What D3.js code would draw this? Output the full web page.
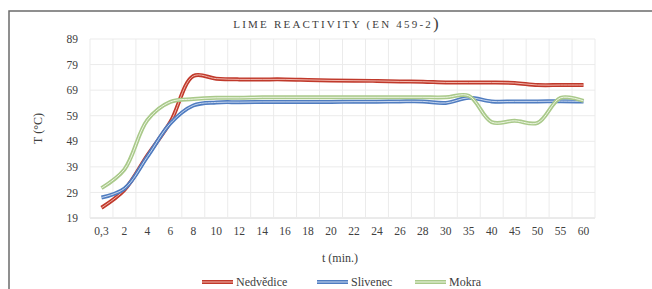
<!DOCTYPE html>
<html>
<head>
<meta charset="utf-8">
<script src="https://cdn.jsdelivr.net/npm/d3@7"></script>
<style>
  body { margin: 0; background: #fff; }
  text { font-family: "Liberation Serif", "DejaVu Serif", serif; fill: #404040; }
</style>
</head>
<body>
<div id="chart"></div>
<script>
const categories = ['0,3', '2', '4', '6', '8', '10', '12', '14', '16', '18', '20', '22', '24', '26', '28', '30', '35', '40', '45', '50', '55', '60']
const nedvedice = [23, 30, 43.5, 56.5, 74.5, 73.5, 73.2, 73.2, 73.2, 73, 72.8, 72.7, 72.6, 72.4, 72.3, 72, 72, 72, 71.8, 71, 71, 71]
const slivenec = [27, 30.5, 43, 56, 63, 64.2, 64.3, 64.4, 64.4, 64.4, 64.4, 64.5, 64.5, 64.6, 64.6, 64, 66, 64.6, 64.6, 64.6, 64.7, 64.6]
const mokra = [30.7, 38, 57.3, 64.4, 65.5, 66, 66, 66.2, 66.2, 66.2, 66.2, 66.2, 66.2, 66.2, 66.2, 66.2, 66.8, 56.5, 57, 56.2, 66, 64.8]
const yTicks = [19, 29, 39, 49, 59, 69, 79, 89]

const series = [
  { name: 'Nedvědice', values: nedvedice, color: '#c0392b', inner: '#f2b8ae' },
  { name: 'Slivenec', values: slivenec, color: '#4f7cc0', inner: '#c9d8f0' },
  { name: 'Mokra', values: mokra, color: '#a9c98a', inner: '#eef6e4' },
]

const params = { width: 652, height: 289, left: 90, right: 595, top: 39, bottom: 218 }

const svg = d3.select('#chart').append('svg')
  .attr('width', params.width)
  .attr('height', params.height)

// frame
svg.append('path')
  .attr('d', `M9,${params.height} L9,11 L${params.width},11`)
  .attr('fill', 'none')
  .attr('stroke', '#6b6b6b')
  .attr('stroke-width', 1.5)

const x = d3.scaleBand().domain(categories).range([params.left, params.right])
const y = d3.scaleLinear().domain([19, 89]).range([params.bottom, params.top])

// gridlines
const grid = svg.append('g')
grid.selectAll('line.h')
  .data(yTicks)
  .enter()
  .append('line')
  .attr('x1', params.left).attr('x2', params.right)
  .attr('y1', d => y(d)).attr('y2', d => y(d))
  .attr('stroke', d => d === 19 ? '#d6d6d6' : '#ebebeb')
  .attr('stroke-width', 1)

const bounds = categories.map(c => x(c)).concat([params.right])
grid.selectAll('line.v')
  .data(bounds)
  .enter()
  .append('line')
  .attr('x1', d => d).attr('x2', d => d)
  .attr('y1', params.top).attr('y2', params.bottom)
  .attr('stroke', '#ebebeb')
  .attr('stroke-width', 1)

// axes
const yAxis = svg.append('g')
  .attr('transform', `translate(${params.left - 12},0)`)
  .call(d3.axisLeft(y).tickValues(yTicks).tickSize(0).tickPadding(0))
yAxis.select('.domain').remove()
yAxis.selectAll('text').attr('font-size', 11.5).attr('fill', '#404040')
  .style('font-family', '"Liberation Serif", serif')

const xAxis = svg.append('g')
  .attr('transform', `translate(0,${params.bottom + 9})`)
  .call(d3.axisBottom(x).tickSize(0).tickPadding(0))
xAxis.select('.domain').remove()
xAxis.selectAll('text').attr('font-size', 11.5).attr('fill', '#404040')
  .attr('dy', '0.71em')
  .style('font-family', '"Liberation Serif", serif')

// lines
const line = d3.line()
  .x((d, i) => x(categories[i]) + x.bandwidth() / 2)
  .y(d => y(d))
  .curve(d3.curveCatmullRom.alpha(0.5))

const lines = svg.append('g')
series.forEach(s => {
  lines.append('path')
    .attr('d', line(s.values))
    .attr('fill', 'none')
    .attr('stroke', s.color)
    .attr('stroke-width', 4)
  lines.append('path')
    .attr('d', line(s.values))
    .attr('fill', 'none')
    .attr('stroke', s.inner)
    .attr('stroke-width', 1)
})

// title
const title = svg.append('text')
  .attr('x', 336)
  .attr('y', 28)
  .attr('text-anchor', 'middle')
  .attr('font-size', 11)
  .attr('letter-spacing', 2.2)
  .attr('fill', '#404040')
title.append('tspan').text('LIME REACTIVITY (EN 459-2')
title.append('tspan').attr('font-size', 17).attr('letter-spacing', 0).attr('dy', 1).text(')')

// axis titles
svg.append('text')
  .attr('transform', `translate(42,${(params.top + params.bottom) / 2}) rotate(-90)`)
  .attr('text-anchor', 'middle')
  .attr('font-size', 12)
  .text('T (°C)')

svg.append('text')
  .attr('x', 340)
  .attr('y', 262)
  .attr('text-anchor', 'middle')
  .attr('font-size', 12)
  .text('t (min.)')

// legend
const legendX = [202, 317, 415]
const legend = svg.append('g')
series.forEach((s, i) => {
  const g = legend.append('g').attr('transform', `translate(${legendX[i]},282)`)
  g.append('line').attr('x1', 0).attr('x2', 31).attr('stroke', s.color).attr('stroke-width', 4)
  g.append('line').attr('x1', 0).attr('x2', 31).attr('stroke', s.inner).attr('stroke-width', 1)
  g.append('text')
    .attr('x', 34)
    .attr('dy', '0.35em')
    .attr('font-size', 12)
    .text(s.name)
})
</script>
</body>
</html>
